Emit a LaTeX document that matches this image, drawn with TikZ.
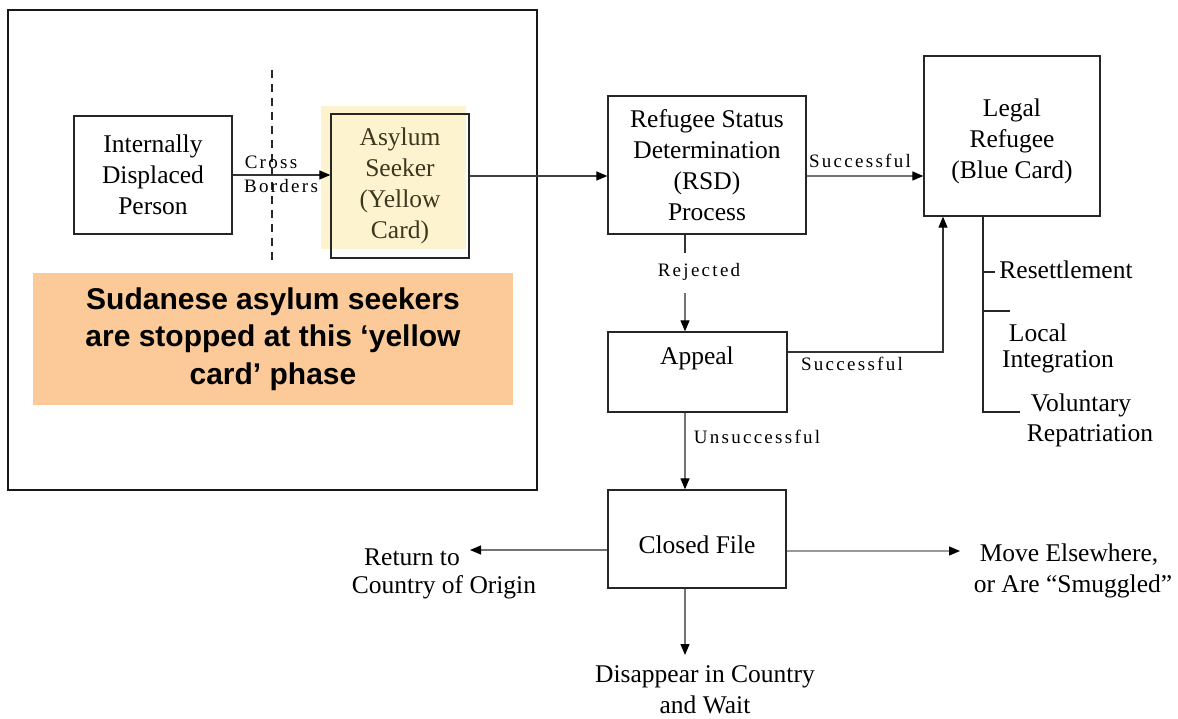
\documentclass[tikz,border=0pt]{standalone}
\usepackage{fontspec}
\setmainfont{Liberation Serif}
\newfontfamily\labfont[LetterSpace=12]{Liberation Serif}
\newfontfamily\sansfnt{Liberation Sans}
\usetikzlibrary{arrows.meta}
\definecolor{hlyellow}{RGB}{253,243,207}
\definecolor{noteorange}{RGB}{252,202,152}
\definecolor{olive}{RGB}{60,56,30}
\begin{document}
\begin{tikzpicture}[x=1pt,y=-1pt,
  box/.style={draw=black!85, line width=1.3pt, align=center, inner sep=0pt, font=\fontsize{25.5}{31}\selectfont},
  txt/.style={inner sep=0pt, align=center, font=\fontsize{25.5}{31}\selectfont},
  lab/.style={inner sep=0pt, font=\labfont\fontsize{19}{22}\selectfont},
  conn/.style={draw=black!55, line width=1.2pt},
  arr/.style={conn, -{Triangle[length=11pt,width=9pt,color=black]}},
  frame/.style={draw=black!90, line width=1.8pt}
]
\useasboundingbox (0,0) rectangle (1178,719);
% outer frame
\draw[frame] (8,10) rectangle (537,490);
% border dashed line
\coordinate (bt) at (272,70);
\coordinate (bb) at (272,262);
\draw[black!85, line width=1.5pt, dash pattern=on 8pt off 6pt] (bt) -- (bb);
% highlight
\fill[hlyellow] (321,106) rectangle (466,249);
% boxes
\node[box, minimum width=158pt, minimum height=118pt] (idp) at (153,175) {Internally\\Displaced\\Person};
\node[box, text=olive, minimum width=138pt, minimum height=144pt] (asy) at (400,186) {Asylum\\Seeker\\(Yellow\\Card)};
\node[box, minimum width=198pt, minimum height=138pt] (rsd) at (707,165) {Refugee Status\\Determination\\(RSD)\\Process};
\node[box, minimum width=176pt, minimum height=160pt] (legal) at (1012,136) {};
\node[txt] (legaltxt) at (1012,141) {Legal\\Refugee\\(Blue Card)};
\node[box, minimum width=179pt, minimum height=80pt] (app) at (697.5,372) {};
\node[txt] (apptxt) at (697,358) {Appeal};
\node[box, minimum width=178pt, minimum height=98pt] (closed) at (697,539) {};
\node[txt] (closedtxt) at (697,545) {Closed File};
% note
\node[fill=noteorange, minimum width=480pt, minimum height=132pt, align=center, inner sep=0pt,
  font=\sansfnt\bfseries\fontsize{30}{37.5}\selectfont] (note) at (273,339)
  {Sudanese asylum seekers\\are stopped at this ‘yellow\\card’ phase};
% outcome texts
\node[txt] (ret1) at (412,557) {Return to};
\node[txt] (ret2) at (444,587) {Country of Origin};
\node[txt] (move) at (1069,571) {Move Elsewhere,\\ \hspace*{8pt}or Are “Smuggled”};
\node[txt] (dis) at (705,690) {Disappear in Country\\and Wait};
\node[txt] (res) at (1066,270) {Resettlement};
\node[txt] (loc1) at (1038,333) {Local};
\node[txt] (loc2) at (1058,362) {Integration};
\node[txt] (vol1) at (1081,405) {Voluntary};
\node[txt] (vol2) at (1090,436) {Repatriation};
% labels
\node[lab] (cross) at (271,162) {Cross};
\node[lab] (borders) at (281,186) {Borders};
\node[lab] (succ1) at (860,161) {Successful};
\node[lab] (succ2) at (852,364) {Successful};
\node[lab] (rej) at (699,272) {Rejected};
\node[lab] (unsucc) at (757,437) {Unsuccessful};
% connectors
\draw[arr, draw=black!80] (idp.east) -- (idp.east -| asy.west);
\draw[arr, draw=black!75] (asy.east |- 0,176) -- (rsd.west |- 0,176);
\draw[arr] (rsd.east |- 0,176) -- (legal.west |- 0,176);
\draw[conn, draw=black!80] (rsd.south -| 685,0) -- (685,253);
\draw[arr] (685,293) -- (app.north -| 685,0);
\draw[arr, draw=black!80] (app.east |- 0,352) -- (943,352) -- (legal.south -| 943,0);
\draw[conn, draw=black!85] (legal.south -| 983,0) -- (983,412) -- (1020,412);
\draw[conn, draw=black!85] (983,272) -- (995,272);
\draw[conn, draw=black!85] (983,311) -- (1010,311);
\draw[arr] (app.south -| 685,0) -- (closed.north -| 685,0);
\draw[arr] (closed.west |- 0,550) -- (470,550);
\draw[arr, draw=black!40] (closed.east |- 0,551) -- (960,551);
\draw[arr] (closed.south -| 685,0) -- (685,655);
\end{tikzpicture}
\end{document}
